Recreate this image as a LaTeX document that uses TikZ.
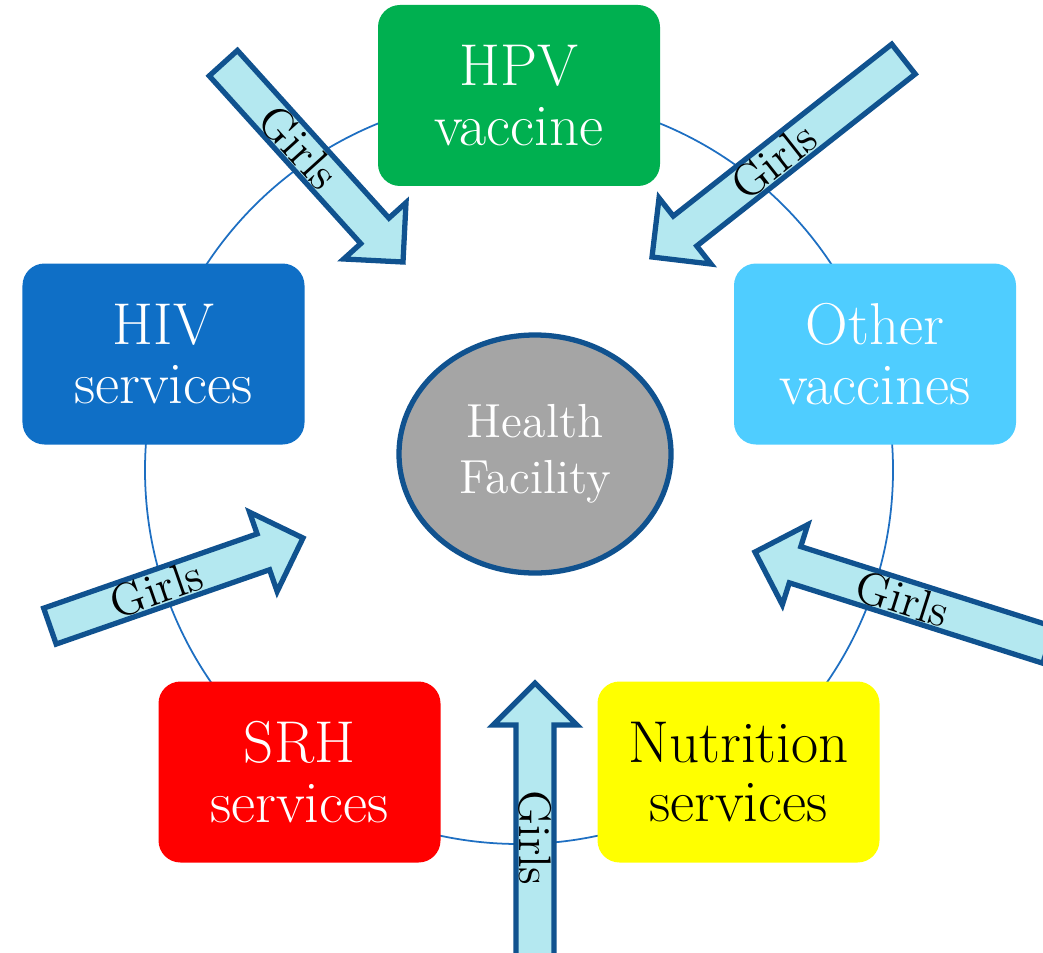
\documentclass[tikz,border=0pt]{standalone}
\usetikzlibrary{positioning,shapes.geometric}

\definecolor{hpvgreen}{HTML}{00B050}
\definecolor{hivblue}{HTML}{0F6FC6}
\definecolor{othercyan}{HTML}{4FCDFF}
\definecolor{srhred}{HTML}{FF0000}
\definecolor{nutyellow}{HTML}{FFFF00}
\definecolor{hubgray}{HTML}{A5A5A5}
\definecolor{edgeblue}{HTML}{10528F}
\definecolor{ringblue}{HTML}{1E6FC2}
\definecolor{arrowfill}{HTML}{B4E8F0}

\begin{document}
\begin{tikzpicture}[
    every node/.append style={align=center, inner sep=0pt}
    ,box/.style={rectangle, rounded corners=0.22cm, minimum width=2.82cm, minimum height=1.81cm, text=white, font=\fontsize{16.8}{17}\selectfont}
    ,hub/.style={ellipse, draw=edgeblue, line width=1.5pt, fill=hubgray, text=white, minimum width=2.72cm, minimum height=2.38cm, font=\fontsize{13.6}{16}\selectfont}
    ,arrowline/.style={draw=edgeblue, line width=1.5pt, fill=arrowfill}
    ,girlstext/.style={transform shape, font=\fontsize{13}{14}\selectfont}
    ,pics/girlsarrow/.style args={#1/#2}{code={
        \draw[arrowline] (0,0) -- (-0.42,0.42) -- (-0.42,0.19) -- (-#1,0.19)
            -- (-#1,-0.19) -- (-0.42,-0.19) -- (-0.42,-0.42) -- cycle;
        \node[girlstext, rotate=#2] (-label) at (-1.55,0) {Girls};
    }}
  ]
  \useasboundingbox (0,0) rectangle (10.43,9.52);
  \clip (0,0) rectangle (10.43,9.52);

  % thin ring behind the boxes
  \draw[ringblue, line width=0.5pt] (5.19,4.82) circle (3.74);

  \node [box, fill=hpvgreen] (hpv) at (5.19,8.565) {HPV\\vaccine};
  \node [box, fill=hivblue] (hiv) at (1.635,5.98) {HIV\\services};
  \node [box, fill=othercyan] (other) at (8.75,5.98) {Other\\vaccines};
  \node [box, fill=srhred] (srh) at (2.995,1.80) {SRH\\services};
  \node [box, fill=nutyellow, text=black] (nut) at (7.385,1.80) {Nutrition\\services};

  \node [hub] (hf) at (5.35,4.98) {Health\\Facility};

  % the five arrows, tip first
  \pic [rotate=-47.9] (ga) at (4.03,6.90) {girlsarrow=2.68/0};
  \pic [rotate=218.2] (gb) at (6.52,6.95) {girlsarrow=3.20/180};
  \pic [rotate=19.2] (gc) at (3.03,4.14) {girlsarrow=2.68/0};
  \pic [rotate=162.4] (gd) at (7.55,4.00) {girlsarrow=3.08/180};
  \pic [rotate=90] (ge) at (5.35,2.69) {girlsarrow=3.00/180};
\end{tikzpicture}
\end{document}
